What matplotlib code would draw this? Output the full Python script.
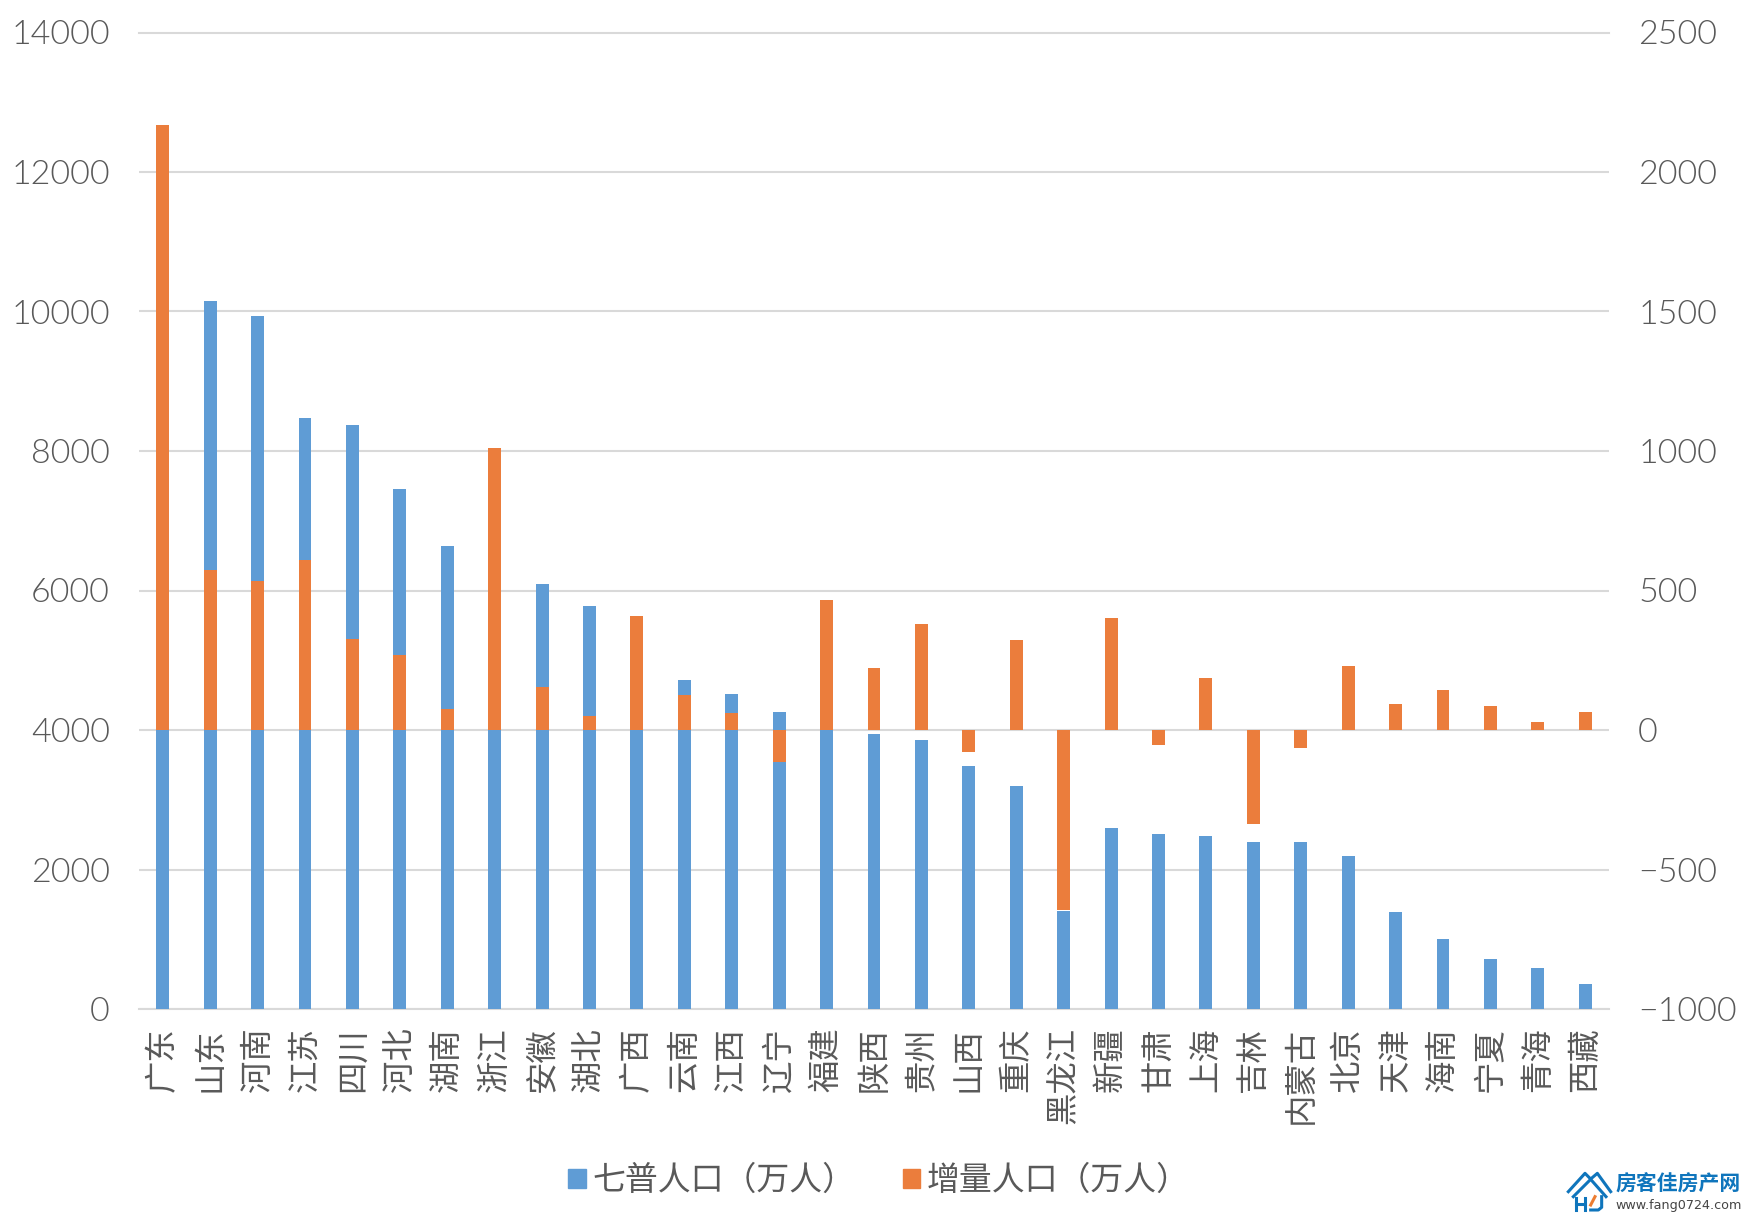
import matplotlib
matplotlib.use("Agg")
import matplotlib.pyplot as plt
from matplotlib.patches import Patch
from matplotlib.lines import Line2D
from matplotlib.transforms import ScaledTranslation

FONT = ['Noto Sans CJK SC', 'DejaVu Sans']
plt.rcParams['font.family'] = FONT

provinces = ['广东','山东','河南','江苏','四川','河北','湖南','浙江','安徽','湖北','广西','云南','江西','辽宁','福建','陕西',
             '贵州','山西','重庆','黑龙江','新疆','甘肃','上海','吉林','内蒙古','北京','天津','海南','宁夏','青海','西藏']
population = [12601,10153,9937,8475,8367,7450,6644,6457,6090,5775,5013,4721,4519,4259,4154,3945,
              3856,3480,3190,1410,2590,2502,2475,2395,2395,2195,1387,1008,720,585,365]
increase = [2167,573,534,609,325,268,75,1010,153,51,407,124,62,-115,465,221,
            381,-80,323,-646,400,-55,185,-338,-65,228,93,145,85,30,65]
left_ticks = [0,2000,4000,6000,8000,10000,12000,14000]
right_ticks = [-1000,-500,0,500,1000,1500,2000,2500]
names = ['七普人口（万人）','增量人口（万人）']
BLUE, ORANGE, GRID, TXT = '#5F9CD5', '#EB7D3C', '#D9D9D9', '#595959'

W, H = 1748, 1218
fig = plt.figure(figsize=(W/100, H/100), dpi=100, facecolor='white')
L, R, T, B = 139, 1609, 32.5, 1009
ax = fig.add_axes([L/W, 1-B/H, (R-L)/W, (B-T)/H])
ax2 = ax.twinx()
x = list(range(len(provinces)))
ax.bar(x, population, width=0.272, color=BLUE, zorder=3)
ax2.bar(x, increase, width=0.272, color=ORANGE, zorder=3)
ax.set_xlim(-0.5, len(x)-0.5)
ax.set_ylim(0, 14000); ax2.set_ylim(-1000, 2500)
ax.set_yticks(left_ticks); ax2.set_yticks(right_ticks)
ax.set_xticks(x)
ax.set_xticklabels(provinces, rotation=90, va='top', ha='center', fontsize=23.3, color=TXT, fontweight='light')
shift = ScaledTranslation(2/100, 0, fig.dpi_scale_trans)
for lab in ax.get_xticklabels():
    lab.set_transform(lab.get_transform() + shift)
ax.tick_params(axis='x', length=0, pad=13)
ax.tick_params(axis='y', length=0, pad=21, labelsize=24.5, labelcolor=TXT)
ax2.tick_params(axis='y', length=0, pad=21, labelsize=24.5, labelcolor=TXT)
for a in (ax, ax2):
    for lab in a.get_yticklabels():
        lab.set_family(['Lato', 'DejaVu Sans'])
        lab.set_fontweight(300)
    for s in ('top','left','right','bottom'):
        a.spines[s].set_visible(False)
for s in ('bottom', 'top'):
    ax.spines[s].set_visible(True)
    ax.spines[s].set_color(GRID); ax.spines[s].set_linewidth(1.5)
ax.yaxis.grid(True, color=GRID, lw=1.5, zorder=0)
ax.set_axisbelow(True)

leg = fig.legend(handles=[Patch(color=BLUE), Patch(color=ORANGE)], labels=names,
                 loc='center', bbox_to_anchor=(879/W, 1-1181/H), ncol=2, frameon=False,
                 prop={'size':23.7,'weight':'normal'}, labelcolor=TXT,
                 handlelength=0.52, handleheight=0.52, handletextpad=0.2, columnspacing=1.45)

# watermark logo
LB = '#0F75BC'
fig.text(1615/W, 1-1184/H, '房客佳房产网', fontsize=15, fontweight='bold', color=LB, va='center', ha='left')
fig.text(1615/W, 1-1205/H, 'www.fang0724.com', fontsize=9.2, color='#444444', va='center', ha='left', family='DejaVu Sans')
def pl(xs, ys, c=LB, lw=2.2):
    fig.add_artist(Line2D([(1500+v/3)/W for v in xs], [1-(1130+v/3)/H for v in ys], color=c, lw=lw))
pl([205,255,272,292,332],[185,130,147,130,185])
pl([220,272,318],[200,148,200])
pl([228,228],[205,240]); pl([255,255],[205,240]); pl([228,255],[222,222])
pl([285,272],[200,225],c='#ED7D31')
pl([305,305,295,272],[200,232,240,240])
fig.savefig('out.png', dpi=100, facecolor='white')
